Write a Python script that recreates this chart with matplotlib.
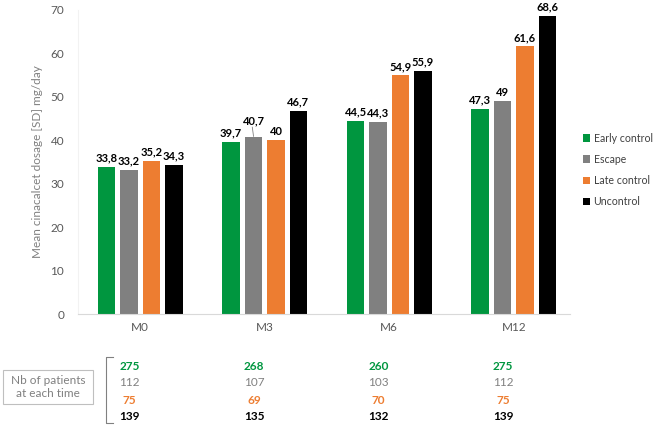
import numpy as np
import matplotlib.pyplot as plt
import matplotlib.transforms as mtransforms
from matplotlib.patches import Rectangle

plt.rcParams['font.family'] = ['Lato', 'DejaVu Sans']

# data
timepoints = ["M0", "M3", "M6", "M12"]
groups = ["Early control", "Escape", "Late control", "Uncontrol"]
colors = ["#00963F", "#808080", "#ED7D31", "#000000"]
early = [33.8, 39.7, 44.5, 47.3]
escape = [33.2, 40.7, 44.3, 49.0]
late = [35.2, 40.0, 54.9, 61.6]
uncontrol = [34.3, 46.7, 55.9, 68.6]
labels_early = ["33,8", "39,7", "44,5", "47,3"]
labels_escape = ["33,2", "40,7", "44,3", "49"]
labels_late = ["35,2", "40", "54,9", "61,6"]
labels_uncontrol = ["34,3", "46,7", "55,9", "68,6"]
n_early = [275, 268, 260, 275]
n_escape = [112, 107, 103, 112]
n_late = [75, 69, 70, 75]
n_uncontrol = [139, 135, 132, 139]

series = [early, escape, late, uncontrol]
series_labels = [labels_early, labels_escape, labels_late, labels_uncontrol]
counts = [n_early, n_escape, n_late, n_uncontrol]

fig = plt.figure(figsize=(6.55, 4.29), dpi=100)
ax = fig.add_axes([0.119, 0.268, 0.751, 0.709])

x = np.arange(len(timepoints))
width = 0.14
step = 0.18
for i, (vals, labs) in enumerate(zip(series, series_labels)):
    pos = x + (i - 1.5) * step
    ax.bar(pos, vals, width, color=colors[i], label=groups[i])
    for p, v, lab in zip(pos, vals, labs):
        dy = 0.8
        if lab == "40,7":
            dy = 2.6
            ax.plot([p, p - 0.01], [v + 0.2, v + 2.3], color="#808080", lw=0.6)
        ax.text(p, v + dy, lab, ha="center", va="bottom", fontsize=8,
                fontweight="bold", color="#000000")

ax.set_ylim(0, 70)
ax.set_yticks(range(0, 71, 10))
ax.set_xlim(-0.5, 3.45)
ax.set_xticks(x)
ax.set_xticklabels(timepoints)
ax.tick_params(axis="both", length=0, labelsize=8.5, colors="#595959")
ax.tick_params(axis="y", pad=10)
ax.tick_params(axis="x", pad=6)
for s in ["top", "right"]:
    ax.spines[s].set_visible(False)
ax.spines["left"].set_color("#F2F2F2")
ax.spines["bottom"].set_color("#D9D9D9")
ax.set_ylabel("Mean cinacalcet dosage [SD] mg/day", fontsize=8.5, color="#808080", labelpad=5)

ax.legend(loc="center left", bbox_to_anchor=(0.890, 0.604), bbox_transform=fig.transFigure,
          frameon=False, fontsize=7.6, handlelength=0.7, handleheight=0.7,
          handletextpad=0.3, labelspacing=0.95, labelcolor="#404040",
          borderpad=0, borderaxespad=0)

# patients count table
trans = mtransforms.blended_transform_factory(ax.transData, fig.transFigure)
row_y = [1 - 366 / 429, 1 - 383 / 429, 1 - 400 / 429, 1 - 417 / 429]
for j, cnt in enumerate(counts):
    for xi, c in zip(x, cnt):
        ax.text(xi - 0.085, row_y[j], str(c), transform=trans, ha="center", va="center",
                fontsize=8.5, fontweight="bold" if j != 1 else "normal",
                color=colors[j] if j != 1 else "#808080", clip_on=False)

fig.add_artist(Rectangle((3 / 655, 1 - 404 / 429), 90 / 655, 34 / 429, transform=fig.transFigure,
                         fill=False, edgecolor="#BFBFBF", lw=0.8))
fig.text(48 / 655, 1 - 387 / 429, "Nb of patients\nat each time", ha="center", va="center",
         fontsize=8.5, color="#808080", linespacing=1.3)
bx0, bx1 = 106 / 655, 113 / 655
by0, by1 = 1 - 357 / 429, 1 - 423 / 429
fig.add_artist(plt.Line2D([bx1, bx0, bx0, bx1], [by0, by0, by1, by1], transform=fig.transFigure,
                          color="#808080", lw=0.8))

fig.savefig("out.png", dpi=100)
